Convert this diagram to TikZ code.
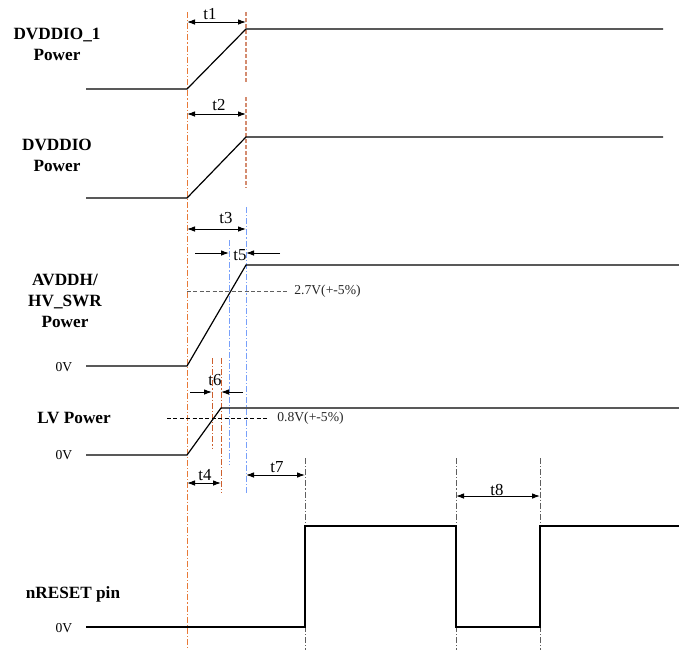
\documentclass[tikz,border=0pt]{standalone}
\usepackage{fontspec}
\setmainfont{Liberation Serif}
\usepackage{xcolor}
\usepackage{tikz}
\usetikzlibrary{arrows.meta}
\pgfdeclarelayer{nodelayer}
\pgfdeclarelayer{edgelayer}
\pgfsetlayers{nodelayer, edgelayer, main}
\definecolor{orangeline}{RGB}{232,122,56}
\definecolor{darkorange}{RGB}{205,95,45}
\definecolor{redline}{RGB}{212,140,112}
\definecolor{blueline}{RGB}{120,160,250}
\definecolor{greyline}{RGB}{95,95,95}
\tikzset{
	sig/.style={line width=0.6pt, line join=miter},
	signame/.style={font=\bfseries\fontsize{8.6}{10.6}\selectfont, align=center, inner sep=0pt},
	volt/.style={font=\fontsize{6.8}{8}\selectfont, inner sep=0pt},
	tlab/.style={font=\fontsize{8.4}{10}\selectfont, inner sep=0pt},
	tip/.tip={Latex[length=4pt,width=2.8pt]},
	dim/.style={line width=0.5pt, tip-tip},
	halfdim/.style={line width=0.5pt, -tip},
	dashdot/.style={line width=0.5pt, dash pattern=on 3pt off 1pt on 0.6pt off 1pt},
	fine/.style={line width=0.7pt, dash pattern=on 2pt off 1pt},
	level/.style={line width=0.45pt, dash pattern=on 2pt off 1.2pt}
}

\begin{document}
\begin{tikzpicture} [x=0.5pt,y=-0.5pt]
	\useasboundingbox (0,0) rectangle (679,650);
	\begin{pgfonlayer}{nodelayer}
		\node[signame] (dvddio1) at (57,44) {DVDDIO\_1\\Power};
		\node[signame] (dvddio) at (57,155) {DVDDIO\\Power};
		\node[signame] (avddh) at (65,301) {AVDDH/\\HV\_SWR\\Power};
		\node[signame] (lv) at (74,418) {LV Power};
		\node[signame] (nreset) at (73,594) {nRESET pin};
		\node[volt] (zero1) at (64,367) {0V};
		\node[volt] (zero2) at (64,455) {0V};
		\node[volt] (zero3) at (64,628) {0V};
		\node[volt, anchor=west, text=black!85] (v27) at (294,291) {2.7V(+-5\%)};
		\node[volt, anchor=west, text=black!85] (v08) at (277,418) {0.8V(+-5\%)};
		\node[tlab] (t1) at (210,14) {t1};
		\node[tlab] (t2) at (219,105) {t2};
		\node[tlab] (t3) at (226,218) {t3};
		\node[tlab] (t5) at (240,255) {t5};
		\node[tlab] (t6) at (215,380) {t6};
		\node[tlab] (t4) at (205,475) {t4};
		\node[tlab] (t7) at (277,467) {t7};
		\node[tlab] (t8) at (497,490) {t8};
		% time marks
		\coordinate (a1) at (187,22);  \coordinate (b1) at (246,22);
		\coordinate (a2) at (187,114); \coordinate (b2) at (246,114);
		\coordinate (a3) at (187,229); \coordinate (b3) at (246,229);
		\coordinate (a5) at (195,253); \coordinate (b5) at (229,253);
		\coordinate (c5) at (280,253); \coordinate (d5) at (246,253);
		\coordinate (a6) at (190,392); \coordinate (b6) at (212,392);
		\coordinate (c6) at (243,392); \coordinate (d6) at (221,392);
		\coordinate (a4) at (187,483); \coordinate (b4) at (221,483);
		\coordinate (a7) at (246,475); \coordinate (b7) at (305,475);
		\coordinate (a8) at (456,496); \coordinate (b8) at (540,496);
	\end{pgfonlayer}
	\begin{pgfonlayer}{edgelayer}
		% guide lines
		\draw[dashdot, orangeline] (187,12) -- (187,650);
		\draw[fine, redline] (246,12) -- (246,82);
		\draw[fine, redline] (246,97) -- (246,188);
		\draw[dashdot, blueline] (246,207) -- (246,493);
		\draw[dashdot, blueline] (229,240) -- (229,465);
		\draw[dashdot, darkorange] (212,358) -- (212,448);
		\draw[dashdot, darkorange] (221,358) -- (221,493);
		\draw[dashdot, greyline] (305,458) -- (305,650);
		\draw[dashdot, greyline] (456,458) -- (456,650);
		\draw[dashdot, greyline] (540,458) -- (540,650);
		\draw[level, greyline] (187,291) -- (288,291);
		\draw[level] (167,418) -- (268,418);
		% signals
		\draw[sig] (86,89) -- (187,89) -- (246,29) -- (663,29);
		\draw[sig] (86,198) -- (187,198) -- (246,137) -- (663,137);
		\draw[sig] (86,366) -- (187,366) -- (246,265) -- (679,265);
		\draw[sig] (86,455) -- (187,455) -- (221,408) -- (679,408);
		\draw[sig] (86,627) -- (305,627) -- (305,526) -- (456,526) -- (456,627)
			-- (540,627) -- (540,526) -- (679,526);
		% timings
		\draw[dim] (a1) -- (b1);
		\draw[dim] (a2) -- (b2);
		\draw[dim] (a3) -- (b3);
		\draw[halfdim] (a5) -- (b5);
		\draw[halfdim] (c5) -- (d5);
		\draw[halfdim] (a6) -- (b6);
		\draw[halfdim] (c6) -- (d6);
		\draw[dim] (a4) -- (b4);
		\draw[dim] (a7) -- (b7);
		\draw[dim] (a8) -- (b8);
	\end{pgfonlayer}
\end{tikzpicture}
\end{document}
